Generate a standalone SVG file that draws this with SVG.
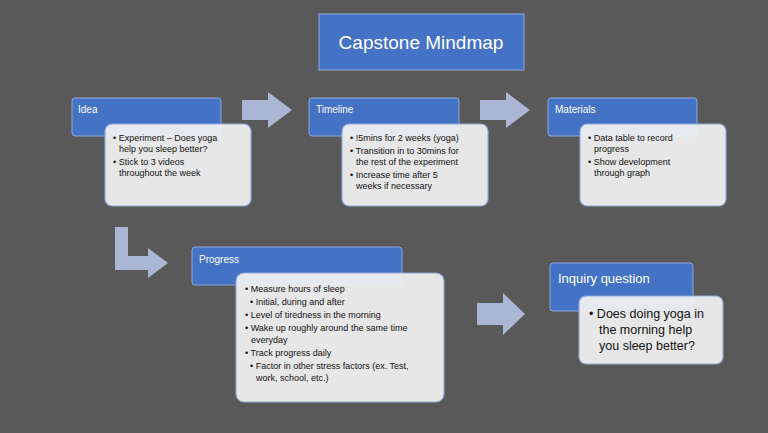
<svg xmlns="http://www.w3.org/2000/svg" width="768" height="433" viewBox="0 0 768 433">
<style>
.hd{fill:#4472C4;stroke:#8FAADC;stroke-width:1}
.bd{fill:#EFEFEF;fill-opacity:0.95;stroke:#8FAADC;stroke-width:1.2}
.ht{font-family:"Liberation Sans",Arial,sans-serif;font-size:10px;fill:#fff}
.bt{font-family:"Liberation Sans",Arial,sans-serif;font-size:9px;fill:#111}
.ar{fill:#AAB6D4}
</style>
<rect width="768" height="433" fill="#595959"/>
<g id="title"><rect x="319" y="14" width="205" height="56" fill="#4472C4" stroke="#8FAADC"/><text x="421" y="49" text-anchor="middle" font-family="Liberation Sans,Arial,sans-serif" font-size="19" fill="#fff">Capstone Mindmap</text></g>
<g id="connectors">
<polygon class="ar" points="242,100 268,100 268,92 292,110 268,128 268,120 242,120"/>
<polygon class="ar" points="480,100 506,100 506,92 530,110 506,128 506,120 480,120"/>
<polygon class="ar" points="115,227 128,227 128,256 148,256 148,248 168,263 148,278 148,270 115,270"/>
<polygon class="ar" points="477,303 503,303 503,293 525,314 503,335 503,325 477,325"/>
</g>
<g id="idea"><rect class="hd" x="72" y="98" width="149" height="38" rx="3"/><text class="ht" x="78" y="113">Idea</text>
<rect class="bd" x="105" y="124" width="146" height="82" rx="7"/>
<text class="bt"><tspan x="113" y="141">• Experiment – Does yoga</tspan><tspan x="119" y="152">help you sleep better?</tspan><tspan x="113" y="165">• Stick to 3 videos</tspan><tspan x="119" y="176">throughout the week</tspan></text></g>
<g id="timeline"><rect class="hd" x="309" y="98" width="150" height="38" rx="3"/><text class="ht" x="316" y="113">Timeline</text>
<rect class="bd" x="342" y="124" width="146" height="82" rx="7"/>
<text class="bt"><tspan x="350" y="141">• !5mins for 2 weeks (yoga)</tspan><tspan x="350" y="154">• Transition in to 30mins for</tspan><tspan x="356" y="165">the rest of the experiment</tspan><tspan x="350" y="178">• Increase time after 5</tspan><tspan x="356" y="189">weeks if necessary</tspan></text></g>
<g id="materials"><rect class="hd" x="548" y="98" width="149" height="38" rx="3"/><text class="ht" x="555" y="113">Materials</text>
<rect class="bd" x="580" y="124" width="146" height="82" rx="7"/>
<text class="bt"><tspan x="588" y="141">• Data table to record</tspan><tspan x="594" y="152">progress</tspan><tspan x="588" y="165">• Show development</tspan><tspan x="594" y="176">through graph</tspan></text></g>
<g id="progress"><rect class="hd" x="192" y="247" width="210" height="38" rx="3"/><text class="ht" x="199" y="263">Progress</text>
<rect class="bd" x="236" y="273" width="208" height="129" rx="8"/>
<text class="bt"><tspan x="245" y="292">• Measure hours of sleep</tspan><tspan x="250" y="305">• Initial, during and after</tspan><tspan x="245" y="318">• Level of tiredness in the morning</tspan><tspan x="245" y="331">• Wake up roughly around the same time</tspan><tspan x="251" y="343">everyday</tspan><tspan x="245" y="356">• Track progress daily</tspan><tspan x="250" y="369">• Factor in other stress factors (ex. Test,</tspan><tspan x="256" y="381">work, school, etc.)</tspan></text></g>
<g id="inquiry"><rect class="hd" x="550" y="263" width="143" height="48" rx="3"/><text x="558" y="283" font-family="Liberation Sans,Arial,sans-serif" font-size="13" fill="#fff">Inquiry question</text>
<rect class="bd" x="579" y="296" width="144" height="68" rx="7"/>
<text font-family="Liberation Sans,Arial,sans-serif" font-size="12.5" fill="#111"><tspan x="589" y="318">• Does doing yoga in</tspan><tspan x="599" y="334">the  morning help</tspan><tspan x="599" y="350">you sleep better?</tspan></text></g>
</svg>
